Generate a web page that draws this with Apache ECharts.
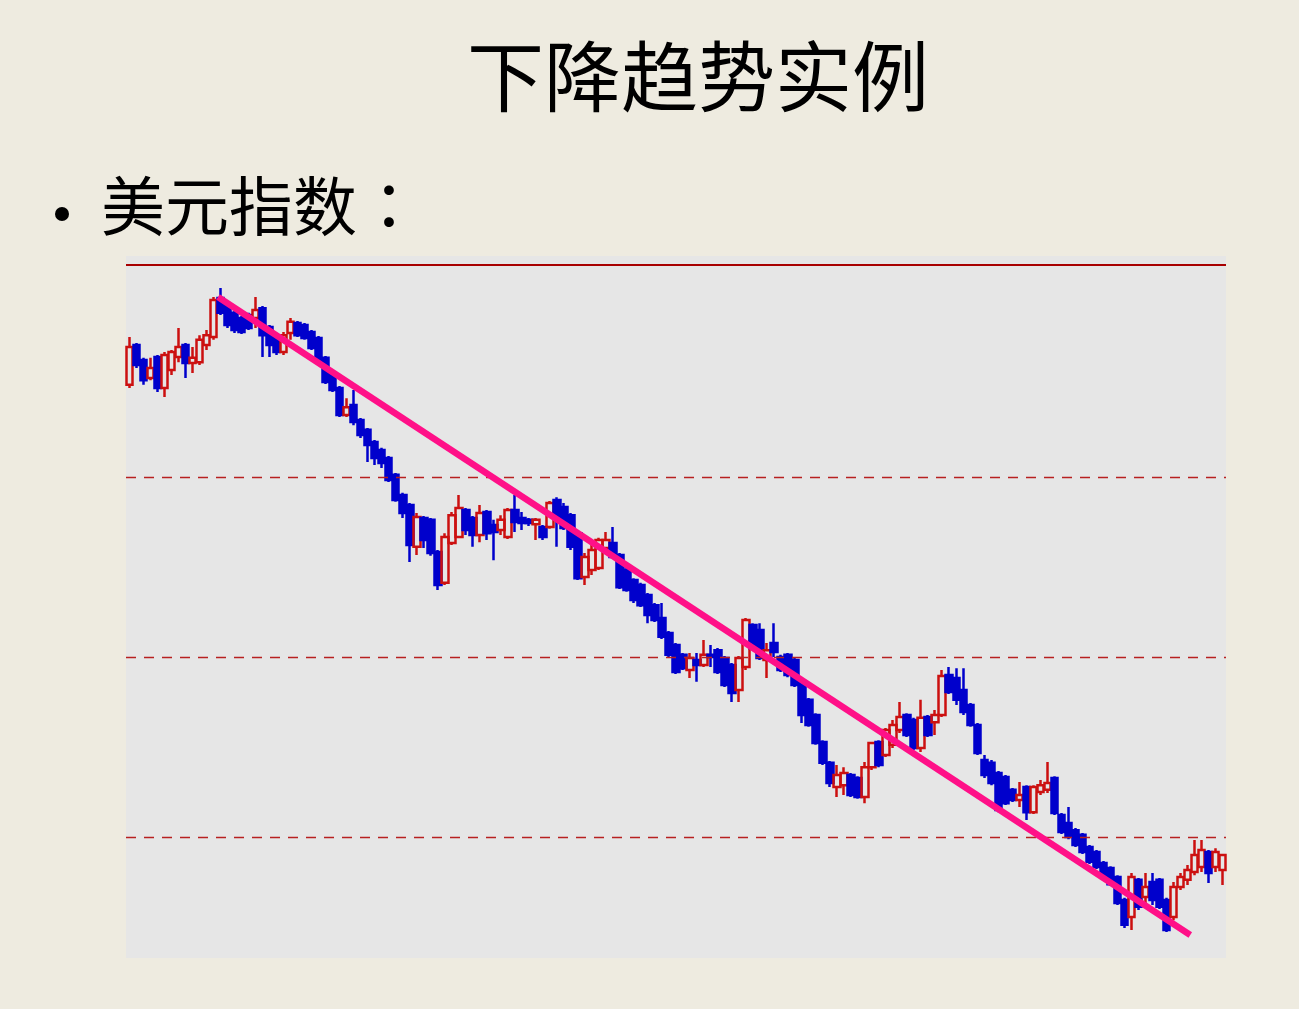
<!DOCTYPE html>
<html>
<head>
<meta charset="utf-8">
<script src="https://cdn.jsdelivr.net/npm/echarts@6/dist/echarts.min.js"></script>
<style>
html,body{margin:0;padding:0;background:#EEEBE0;}
#c{width:1299px;height:1009px;}
</style>
</head>
<body>
<div id="c"></div>
<script>
// Weekly US dollar index candles (open, close, low, high)
const opens = [87.56, 88.67, 88.25, 87.75, 88.33, 87.47, 87.97, 88.33, 88.67, 88.17,
 88.19, 88.67, 88.89, 89.97, 89.78, 89.56, 89.42, 89.50, 89.42, 89.69,
 89.17, 88.94, 88.47, 89.00, 89.28, 89.22, 89.03, 88.86, 88.31, 87.83,
 87.47, 86.72, 87.00, 86.58, 86.31, 85.97, 85.75, 85.53, 85.06, 84.50,
 84.22, 83.06, 83.86, 83.81, 82.92, 82.06, 83.17, 83.33, 84.08, 83.86,
 83.39, 84.03, 83.67, 83.53, 83.33, 84.08, 83.86, 83.81, 83.69, 83.61,
 83.61, 84.36, 84.17, 83.94, 83.44, 82.22, 82.42, 82.47, 83.03, 83.17,
 82.83, 82.42, 82.14, 82.00, 81.72, 81.44, 81.08, 80.67, 80.33, 80.06,
 79.64, 79.92, 79.78, 80.06, 80.19, 79.97, 79.78, 79.08, 79.72, 80.89,
 80.75, 79.92, 80.39, 80.00, 80.06, 79.92, 79.31, 78.81, 78.39, 77.64,
 77.06, 76.39, 76.44, 76.72, 76.64, 76.11, 76.94, 77.64, 77.28, 77.56,
 77.97, 78.39, 78.25, 77.47, 78.33, 78.19, 78.39, 79.50, 79.42, 79.08,
 78.67, 78.11, 77.14, 77.06, 76.78, 76.67, 76.31, 76.03, 76.39, 75.69,
 76.25, 76.31, 76.64, 75.61, 75.39, 75.19, 75.06, 74.72, 74.58, 74.28,
 74.14, 73.89, 73.25, 72.78, 73.81, 73.33, 73.75, 73.81, 73.25, 72.78,
 73.61, 73.81, 74.03, 74.17, 74.58, 74.17, 74.08];
const closes = [88.61, 88.11, 87.69, 88.03, 87.47, 88.39, 88.47, 88.61, 88.17, 88.31,
 88.81, 88.94, 89.92, 89.56, 89.22, 89.08, 89.03, 89.14, 89.64, 88.94,
 88.67, 88.47, 88.94, 89.31, 88.94, 88.86, 88.58, 88.25, 87.64, 87.42,
 86.72, 86.94, 86.53, 86.17, 85.89, 85.53, 85.39, 84.92, 84.36, 84.00,
 83.11, 83.89, 83.25, 82.89, 82.00, 83.33, 83.94, 84.14, 83.53, 83.39,
 84.00, 83.44, 83.47, 83.81, 84.08, 83.75, 83.72, 83.72, 83.81, 83.33,
 84.28, 83.89, 83.58, 83.06, 82.19, 82.78, 82.97, 83.25, 83.25, 82.78,
 81.94, 81.86, 81.58, 81.44, 81.17, 81.03, 80.56, 80.06, 79.58, 79.69,
 79.97, 79.78, 80.06, 80.00, 79.58, 79.22, 79.00, 79.97, 81.03, 80.25,
 79.97, 80.19, 80.14, 79.64, 79.50, 79.22, 78.39, 78.11, 77.61, 77.06,
 76.50, 76.72, 76.78, 76.17, 76.11, 76.94, 77.61, 77.00, 77.97, 78.11,
 78.33, 77.83, 77.47, 78.31, 77.83, 78.39, 79.47, 79.03, 78.81, 78.47,
 78.11, 77.33, 76.72, 76.50, 75.75, 75.94, 76.03, 76.17, 75.69, 76.39,
 76.44, 76.50, 75.67, 75.14, 75.00, 74.78, 74.58, 74.31, 74.17, 73.89,
 73.69, 73.17, 72.56, 73.89, 73.06, 73.61, 73.25, 73.06, 72.42, 73.61,
 73.89, 74.08, 74.50, 74.64, 74.00, 74.58, 74.50];
const lows = [87.47, 88.03, 87.56, 87.69, 87.36, 87.22, 87.83, 88.19, 87.75, 87.89,
 88.11, 88.53, 88.81, 89.50, 89.14, 89.00, 88.97, 89.08, 89.14, 88.33,
 88.33, 88.39, 88.39, 88.81, 88.89, 88.81, 88.53, 88.19, 87.58, 87.36,
 86.67, 86.67, 86.44, 86.08, 85.42, 85.33, 85.25, 84.86, 84.31, 83.86,
 82.64, 82.83, 83.03, 82.81, 81.86, 82.00, 83.11, 83.31, 83.39, 83.06,
 83.19, 83.25, 82.69, 83.39, 83.28, 83.47, 83.53, 83.64, 83.25, 83.25,
 83.56, 83.06, 83.53, 82.97, 82.14, 82.00, 82.28, 82.42, 82.97, 82.75,
 81.89, 81.81, 81.50, 81.39, 80.94, 80.97, 80.50, 80.00, 79.53, 79.64,
 79.42, 79.31, 79.72, 79.72, 79.53, 79.17, 78.75, 78.75, 79.64, 80.19,
 79.92, 79.42, 80.00, 79.58, 79.44, 79.17, 78.17, 78.06, 77.56, 77.00,
 76.39, 76.11, 76.17, 76.11, 76.06, 75.94, 76.86, 76.94, 77.22, 77.47,
 77.89, 77.78, 77.42, 77.36, 77.78, 77.83, 78.33, 78.97, 78.67, 78.39,
 78.06, 77.28, 76.64, 76.44, 75.69, 75.89, 75.97, 75.83, 75.47, 75.64,
 76.17, 76.22, 75.61, 75.08, 74.94, 74.72, 74.53, 74.25, 74.11, 73.83,
 73.64, 73.11, 72.47, 72.42, 72.97, 73.06, 73.11, 73.00, 72.36, 72.69,
 73.53, 73.67, 73.94, 74.03, 73.72, 74.03, 73.67];
const highs = [88.89, 88.72, 88.31, 88.31, 88.39, 88.47, 88.53, 89.14, 88.72, 88.61,
 88.94, 89.08, 90.00, 90.25, 89.83, 89.61, 89.47, 89.56, 90.00, 89.75,
 89.22, 89.00, 89.03, 89.42, 89.33, 89.28, 89.08, 88.92, 88.36, 87.89,
 87.53, 87.19, 87.42, 86.64, 86.36, 86.03, 85.81, 85.58, 85.11, 84.56,
 84.28, 84.00, 83.92, 83.86, 82.97, 83.44, 84.03, 84.50, 84.14, 83.92,
 84.22, 84.08, 83.81, 83.94, 84.14, 84.50, 84.03, 83.86, 83.86, 83.67,
 84.33, 84.44, 84.28, 84.00, 83.50, 82.89, 83.11, 83.31, 83.47, 83.61,
 82.89, 82.47, 82.19, 82.06, 81.78, 81.50, 81.50, 80.72, 80.39, 80.11,
 80.11, 80.11, 80.47, 80.33, 80.25, 80.03, 79.83, 80.03, 81.08, 80.94,
 80.94, 80.39, 80.94, 80.06, 80.11, 79.97, 79.42, 78.86, 78.44, 77.69,
 77.11, 77.00, 76.94, 76.78, 76.69, 77.08, 77.64, 77.69, 78.03, 78.25,
 78.75, 78.44, 78.31, 78.81, 78.39, 78.53, 79.64, 79.72, 79.69, 79.69,
 78.72, 78.17, 77.28, 77.14, 76.83, 76.72, 76.36, 76.53, 76.44, 76.44,
 76.58, 77.08, 76.69, 75.67, 75.83, 75.25, 75.11, 74.78, 74.64, 74.33,
 74.19, 73.94, 73.31, 74.00, 73.86, 74.00, 74.00, 73.86, 73.31, 73.75,
 74.00, 74.22, 74.92, 74.92, 74.64, 74.69, 74.53];

// Trend line anchors (bar index, price)
const trendX = [12.63, 151.4];
const trendY = [90.00, 72.28];

// Horizontal reference levels
const guideLevels = [85, 80, 75];
const topRule = 90.89;
const yMin = 71.639, yMax = 91.139;

const titleText = '下降趋势实例';
const bulletText = '美元指数：';

const weeks = opens.map((_, i) => 'W' + (i + 1));
const candleData = opens.map((o, i) => [o, closes[i], lows[i], highs[i]]);
const trendData = trendX.map((x, i) => [x, trendY[i]]);

const chart = echarts.init(document.getElementById('c'), null, {renderer: 'canvas'});
chart.setOption({
  backgroundColor: '#EEEBE0',
  animation: false,
  graphic: [
    {type: 'text', x: 698, y: 38,
     style: {text: titleText, font: '77px "Noto Sans CJK SC"', fill: '#000', textAlign: 'center'}},
    {type: 'circle', shape: {cx: 62, cy: 214, r: 7}, style: {fill: '#000'}},
    {type: 'text', x: 101, y: 174,
     style: {text: bulletText, font: '64px "Noto Sans CJK TC"', fill: '#000'}}
  ],
  grid: {left: 126, right: 73, top: 256, bottom: 51, show: true,
         backgroundColor: '#E6E6E6', borderWidth: 0},
  xAxis: [
    {type: 'category', data: weeks, boundaryGap: true, show: false},
    {type: 'value', min: -0.5, max: opens.length - 0.5, show: false}
  ],
  yAxis: {type: 'value', min: yMin, max: yMax, show: false, splitLine: {show: false}},
  series: [
    {
      type: 'candlestick',
      data: candleData,
      barWidth: 7,
      itemStyle: {
        color: 'rgba(0,0,0,0)', color0: '#0000CC',
        borderColor: '#CC1010', borderColor0: '#0000CC',
        borderColorDoji: '#0000CC',
        borderWidth: 2.5
      },
      markLine: {
        symbol: 'none', silent: true, label: {show: false},
        lineStyle: {type: [10, 8], color: '#B82020', width: 1.3},
        data: guideLevels.map(v => ({yAxis: v})).concat([
          {yAxis: topRule, lineStyle: {type: 'solid', color: '#A80000', width: 2}}
        ])
      },
      z: 2
    },
    {
      type: 'line',
      xAxisIndex: 1,
      data: trendData,
      symbol: 'none',
      lineStyle: {color: '#FF1088', width: 6.5},
      z: 5
    }
  ]
});
</script>
</body>
</html>
